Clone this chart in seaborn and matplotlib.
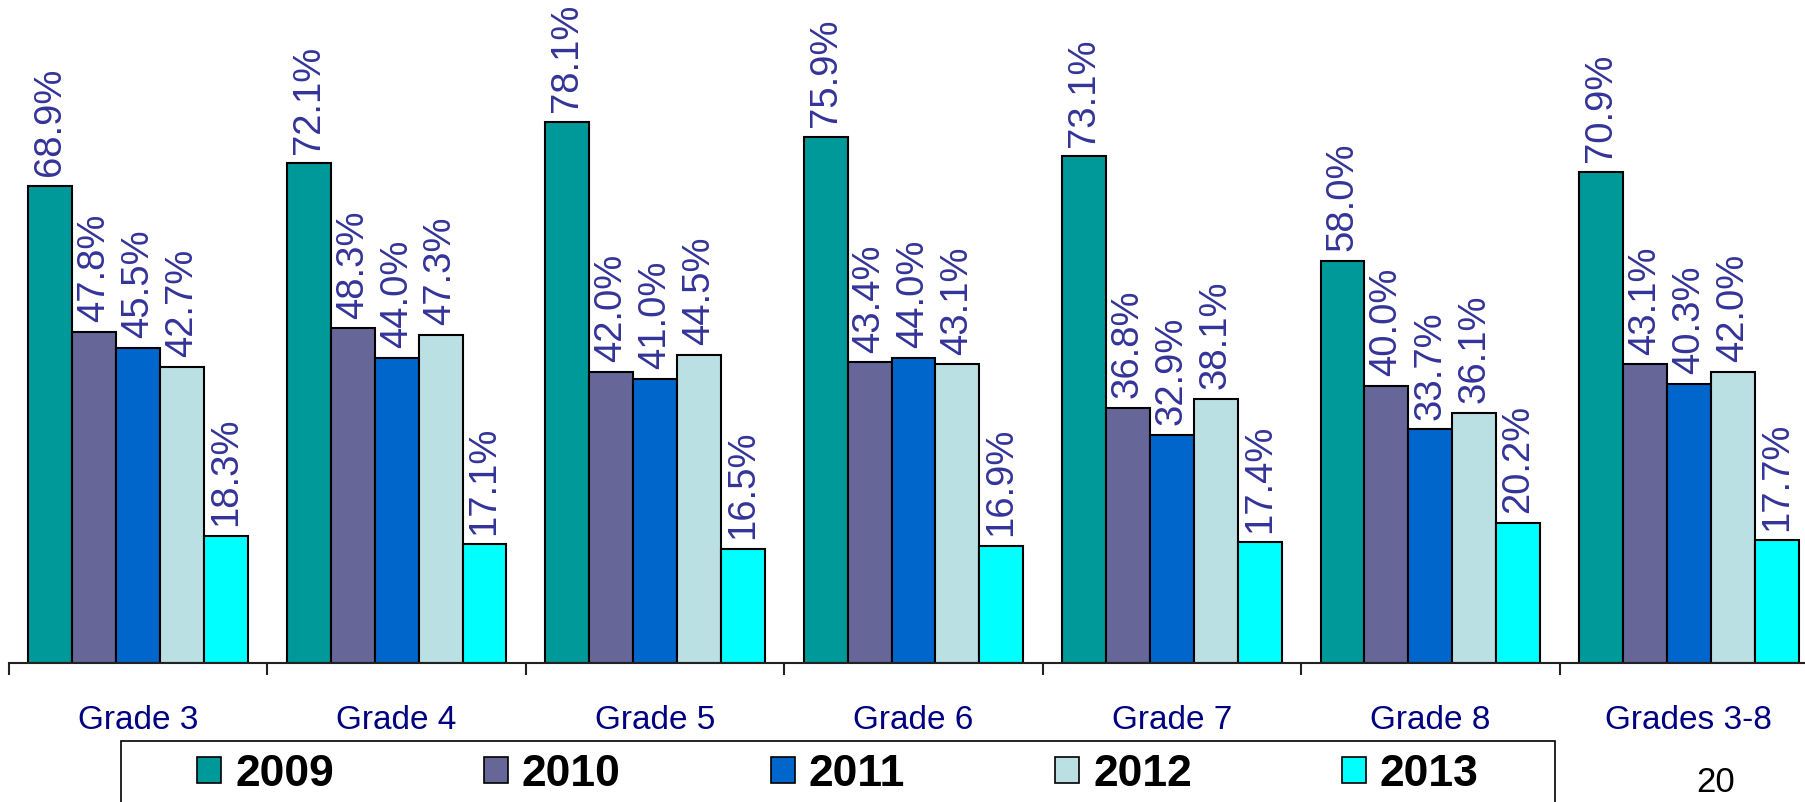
import matplotlib
matplotlib.use("Agg")
import matplotlib.pyplot as plt
from matplotlib.patches import Patch, Rectangle
import seaborn as sns
import pandas as pd

categories = ["Grade 3", "Grade 4", "Grade 5", "Grade 6", "Grade 7", "Grade 8", "Grades 3-8"]
years = ["2009", "2010", "2011", "2012", "2013"]
v2009 = [68.9, 72.1, 78.1, 75.9, 73.1, 58.0, 70.9]
v2010 = [47.8, 48.3, 42.0, 43.4, 36.8, 40.0, 43.1]
v2011 = [45.5, 44.0, 41.0, 44.0, 32.9, 33.7, 40.3]
v2012 = [42.7, 47.3, 44.5, 43.1, 38.1, 36.1, 42.0]
v2013 = [18.3, 17.1, 16.5, 16.9, 17.4, 20.2, 17.7]
colors = ["#009999", "#666699", "#0066CC", "#BBE0E3", "#00FFFF"]
page_number = "20"

series = [v2009, v2010, v2011, v2012, v2013]
rows = []
for y, vals in zip(years, series):
    for c, v in zip(categories, vals):
        rows.append({"category": c, "year": y, "value": v})
df = pd.DataFrame(rows)

sns.set_theme(style="white")
plt.rcParams["font.family"] = ["Liberation Sans", "DejaVu Sans"]
plt.rcParams["text.color"] = "black"

W, H = 1806, 802
fig = plt.figure(figsize=(W / 100, H / 100), dpi=100)
base = 663
ax = fig.add_axes([9 / W, (H - base) / H, 1809 / W, base / H])

sns.barplot(data=df, x="category", y="value", hue="year", order=categories,
            hue_order=years, palette=colors, saturation=1, width=0.85, gap=0,
            edgecolor="black", linewidth=1.5, legend=False, ax=ax, errorbar=None)

for cont in ax.containers:
    ax.bar_label(cont, fmt="{:.1f}%", rotation=90, padding=7,
                 color="#333399", fontsize=27.5)

ax.set_xlim(-0.5, 6.5)
ax.set_ylim(0, base / 6.93)
ax.set_xlabel("")
ax.set_ylabel("")
ax.set_yticks([])
for s in ["left", "right", "top"]:
    ax.spines[s].set_visible(False)
ax.spines["bottom"].set_color("#222222")
ax.spines["bottom"].set_linewidth(1.5)
ax.set_xticks(range(len(categories)))
ax.set_xticklabels(categories, color="#000080", fontsize=24)
ax.set_xticks([i - 0.5 for i in range(len(categories) + 1)], minor=True)
ax.tick_params(axis="x", which="major", length=0, pad=30)
ax.tick_params(axis="x", which="minor", length=8.6, width=1.5, color="#222222",
               direction="out", bottom=True)

# legend frame
fig.patches.append(Rectangle((121 / W, 1 - 810 / H), (1555 - 121) / W, (810 - 741) / H,
                             transform=fig.transFigure, facecolor="white",
                             edgecolor="black", linewidth=1.2))
handles = [Patch(facecolor=c, edgecolor="black", linewidth=1.2, label=y)
           for c, y in zip(colors, years)]
fig.legend(handles=handles, loc="center", bbox_to_anchor=(838 / W, 1 - 774 / H),
           ncol=5, frameon=False, prop={"weight": "bold", "size": 32},
           labelcolor="black",
           handlelength=0.54, handleheight=0.54, handletextpad=0.31,
           columnspacing=3.38, borderpad=0)

fig.text(1716 / W, 1 - 783 / H, page_number, fontsize=25, color="black",
         ha="center", va="center")

fig.savefig("out.png", dpi=100)
